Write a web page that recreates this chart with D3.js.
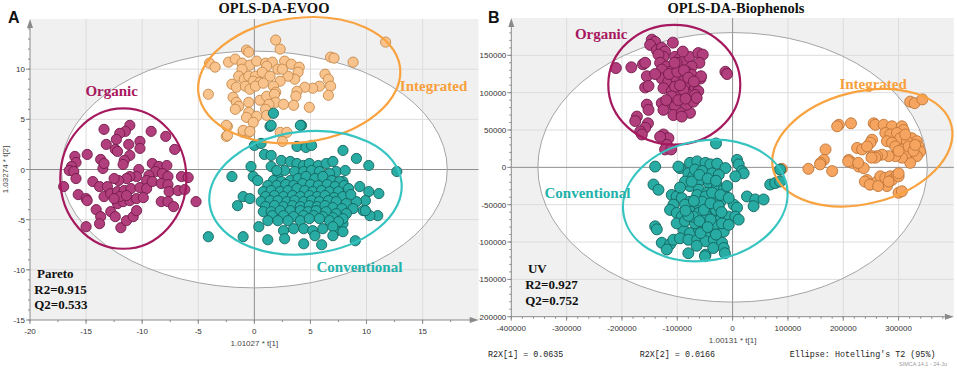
<!DOCTYPE html>
<html>
<head>
<meta charset="utf-8">
<script src="https://cdn.jsdelivr.net/npm/d3@7"></script>
<style>
  body { margin: 0; background: #fff; }
  svg { display: block; }
</style>
</head>
<body>
<svg id="chart" width="957" height="368"></svg>
<script>
// ---------------- data ----------------
const groupNames = ["Organic", "Integrated", "Conventional"];

// panel A : OPLS-DA-EVOO (Pareto)
const evooXTicks = [-20, -15, -10, -5, 0, 5, 10, 15];
const evooYTicks = [-15, -10, -5, 0, 5, 10];
const evooStats = ["Pareto", "R2=0.915", "Q2=0.533"];
const evooHotelling = [0, 0, 17.2, 11.8];
// centre x, centre y, semi axis x, semi axis y, tilt (deg) for Organic, Integrated, Conventional
const evooGroupEllipses = [
  [-11.68, -0.9, 5.62, 7.0, 0],
  [4.0, 8.9, 9.06, 6.2, -7.5],
  [4.56, -2.32, 8.61, 6.11, -6.4]
];

const evooOrganic = [
  [-13.4,4.0],[-11.1,4.4],[-11.5,3.8],[-12.0,3.6],[-12.3,3.0],[-9.2,3.8],[-7.9,3.3],[-7.1,2.0],
  [-13.2,2.5],[-11.2,2.5],[-10.2,2.8],[-10.2,2.1],[-12.4,2.0],[-12.2,1.8],[-14.9,1.5],[-16.0,1.3],
  [-15.9,0.7],[-16.3,0.3],[-16.5,-0.1],[-16.1,-0.2],[-15.9,-0.9],[-17.0,-1.7],[-13.7,1.0],[-13.5,0.1],
  [-13.4,0.6],[-11.1,1.4],[-11.6,0.9],[-11.7,0.5],[-9.1,0.6],[-8.5,0.3],[-7.8,0.4],[-8.8,-0.2],
  [-8.2,-0.4],[-7.7,-0.7],[-9.4,-0.6],[-9.6,-1.1],[-10.3,0.0],[-10.5,-0.7],[-11.1,-0.7],[-11.4,-0.9],
  [-12.1,-1.1],[-12.5,-0.9],[-14.4,-1.2],[-13.8,-1.7],[-13.1,-1.7],[-13.4,-2.7],[-12.8,-2.4],[-12.2,-2.2],
  [-11.6,-2.1],[-11.0,-1.9],[-10.2,-1.8],[-9.6,-1.9],[-9.1,-1.2],[-8.3,-1.4],[-7.7,-1.5],[-7.6,-2.2],
  [-6.8,-2.1],[-6.5,-0.7],[-5.9,-0.8],[-6.2,-2.0],[-15.7,-2.5],[-15.0,-2.9],[-14.9,-3.1],[-14.1,-4.0],
  [-13.7,-4.7],[-13.8,-5.4],[-15.0,-5.7],[-12.8,-4.2],[-12.4,-4.7],[-11.9,-5.8],[-11.4,-5.1],[-10.8,-4.7],
  [-10.5,-4.1],[-12.2,-3.4],[-11.7,-3.2],[-11.1,-3.1],[-10.5,-2.9],[-9.9,-2.8],[-8.3,-3.2],[-7.7,-3.2],
  [-7.2,-3.7],[-5.2,-3.2],[-12.0,-2.7],[-11.4,-2.6],[-12.5,-2.9]
];
const evooIntegrated = [
  [11.7,12.7],[1.9,12.9],[2.3,12.0],[-0.7,11.9],[-0.5,11.7],[-4.0,10.6],[-3.5,10.2],[-2.3,10.7],
  [-1.7,11.0],[-1.1,10.6],[-0.4,10.4],[0.2,10.8],[1.0,10.6],[1.6,10.7],[2.7,10.8],[3.3,10.5],
  [4.0,10.2],[3.9,9.7],[2.1,10.0],[1.1,10.3],[6.8,11.2],[7.1,11.1],[8.8,10.7],[6.3,9.5],
  [6.6,9.0],[6.8,8.3],[6.6,7.4],[5.8,8.3],[5.2,8.1],[4.5,8.2],[3.6,9.0],[3.0,9.3],
  [2.3,8.8],[1.7,8.3],[1.9,7.7],[3.8,7.8],[3.7,7.3],[-1.1,10.0],[-1.4,9.3],[-0.9,9.0],
  [-0.5,9.3],[0.1,9.3],[-0.1,8.8],[0.5,8.7],[-2.0,8.5],[-1.6,8.2],[-0.8,8.3],[-0.4,8.0],
  [0.1,8.3],[0.8,8.6],[-4.1,7.5],[-1.9,7.2],[-1.6,6.7],[-1.4,6.3],[-0.5,6.7],[0.5,6.9],
  [1.1,7.3],[1.8,7.5],[1.9,6.7],[1.3,6.5],[1.0,6.0],[2.6,6.5],[3.5,6.4],[-1.7,6.0],
  [-0.5,5.7],[0.2,5.3],[1.1,5.4],[-0.7,5.2],[-0.1,4.7],[4.9,6.2],[-2.4,4.3],[-2.5,3.3],
  [-1.0,3.7],[-0.5,3.7],[2.3,3.7],[2.9,3.7],[0.7,9.7],[1.4,9.3],[2.5,10.0],[-2.5,4.4],
  [-1.0,3.9],[-0.4,3.8],[-2.4,3.4],[2.5,2.8]
];
const evooConventional = [
  [1.4,4.3],[4.2,4.4],[1.7,5.6],[1.5,4.4],[4.1,4.4],[0.0,2.4],[0.6,2.6],[3.8,2.3],[4.6,2.2],[5.1,2.4],
  [7.9,1.9],[0.9,1.5],[1.5,1.4],[2.4,0.9],[3.2,0.8],[3.8,0.6],[9.1,1.1],[10.2,0.4],[12.7,-0.2],[-2.0,-0.7],
  [-0.3,0.3],[-0.1,-0.7],[0.3,-1.1],[1.5,0.3],[2.1,-0.4],[2.7,-0.1],[4.4,0.4],[4.9,0.6],[5.7,0.4],[6.4,0.6],
  [7.0,0.8],[7.3,-0.2],[8.1,-0.1],[7.9,-1.2],[9.4,-1.7],[10.2,-2.2],[11.1,-2.4],[9.9,-3.1],[9.1,-3.2],[11.0,-4.6],
  [10.3,-4.6],[9.7,-4.1],[-1.5,-3.6],[-1.0,-2.7],[-0.4,-2.9],[-4.1,-6.7],[-1.0,-6.7],[0.4,-5.7],[1.2,-7.0],[2.6,-6.1],
  [2.7,-6.9],[4.4,-7.4],[6.0,-7.5],[7.3,-6.1],[9.0,-7.1],[7.9,-5.4],
  [2.0,-0.1],[3.6,-0.2],[4.4,-0.2],[5.1,-0.1],[5.8,-0.2],[6.7,-0.4],
  [1.7,-1.1],[2.4,-1.2],[3.2,-1.1],[3.9,-0.9],[4.6,-0.7],[5.4,-0.9],[6.1,-0.7],[6.9,-1.1],[7.6,-1.2],
  [1.2,-1.6],[2.0,-1.6],[2.8,-1.5],[3.5,-1.6],[4.3,-1.4],[5.0,-1.5],[5.7,-1.6],[6.5,-1.5],[7.2,-1.7],[8.0,-1.6],
  [0.8,-2.2],[1.5,-2.1],[2.3,-2.2],[3.0,-2.1],[3.8,-1.9],[4.5,-2.1],[5.2,-2.2],[6.0,-2.1],[6.7,-2.2],[7.5,-2.2],[8.4,-1.9],
  [1.0,-2.7],[1.8,-2.6],[2.6,-2.7],[3.4,-2.6],[4.1,-2.7],[4.9,-2.6],[5.6,-2.7],[6.3,-2.6],[7.1,-2.8],[7.9,-2.7],[8.6,-2.5],
  [0.6,-3.2],[1.4,-3.1],[2.1,-3.1],[2.9,-3.2],[3.6,-3.1],[4.4,-3.2],[5.1,-3.1],[5.8,-3.2],[6.6,-3.1],[7.3,-3.2],[8.2,-3.4],
  [1.0,-3.7],[1.8,-3.6],[2.6,-3.7],[3.4,-3.6],[4.1,-3.7],[4.9,-3.6],[5.6,-3.7],[6.3,-3.6],[7.0,-3.8],[7.8,-3.9],[8.8,-3.9],[9.9,-4.1],
  [0.8,-4.2],[1.5,-4.2],[2.3,-4.1],[3.2,-4.1],[4.1,-4.1],[4.8,-4.2],[5.5,-4.1],[6.4,-4.2],[7.3,-4.4],[8.2,-4.4],
  [1.6,-4.6],[2.6,-4.6],[3.5,-4.7],[4.4,-4.6],[5.3,-4.6],[6.1,-4.7],[7.0,-4.8],[7.9,-4.9],
  [1.2,-5.1],[2.1,-5.1],[3.0,-5.1],[4.1,-5.1],[4.9,-4.9],[5.8,-4.9],[6.7,-5.1],[7.5,-5.2],
  [3.5,-5.9],[4.4,-5.9],[5.2,-6.1],[6.1,-5.9],[7.0,-5.7],[7.9,-6.2],[7.0,-6.6],[5.4,-6.6]
];

// panel B : OPLS-DA-Biophenols (UV)
const bioXTicks = [-400000, -300000, -200000, -100000, 0, 100000, 200000, 300000];
const bioYTicks = [-200000, -150000, -100000, -50000, 0, 50000, 100000, 150000];
const bioStats = ["UV", "R2=0.927", "Q2=0.752"];
const bioFooter = ["R2X[1] = 0.0635", "R2X[2] = 0.0166", "Ellipse: Hotelling's T2 (95%)"];
const bioHotelling = [0, 0, 352000, 180500];
const bioGroupEllipses = [
  [-105400, 110600, 119300, 80300, 0],
  [234500, 26300, 166000, 75000, -14],
  [-49400, -44500, 149800, 80300, -9.8]
];

const bioOrganic = [
  [-146000,171000],[-140000,168000],[-149000,164000],[-108000,167000],[-137000,157000],[-128000,160000],
  [-122000,155000],[-125000,148000],[-134000,151000],[-104000,148000],[-95000,146000],[-89000,142000],
  [-101000,140000],[-78000,148000],[-62000,153000],[-54000,151000],[-60000,140000],[-74000,135000],
  [-83000,128000],[-74000,124000],[-58000,119000],[-57000,122000],[-211000,133000],[-183000,134000],
  [-162000,138000],[-158000,140000],[-131000,140000],[-119000,135000],[-113000,128000],[-128000,131000],
  [-13000,128000],[-10000,125000],[-155000,122000],[-158000,107000],[-152000,109000],[-128000,119000],
  [-116000,115000],[-101000,117000],[-89000,115000],[-77000,111000],[-68000,106000],[-62000,102000],
  [-125000,106000],[-110000,102000],[-95000,99000],[-80000,97000],[-68000,97000],[-89000,104000],
  [-104000,108000],[-155000,84000],[-152000,77000],[-128000,86000],[-116000,84000],[-104000,82000],
  [-125000,77000],[-107000,70000],[-92000,73000],[-77000,73000],[-92000,68000],[-83000,84000],
  [-71000,88000],[-65000,93000],[-173000,68000],[-176000,62000],[-153000,59000],[-158000,53000],
  [-167000,48000],[-164000,44000],[-125000,44000],[-116000,39000],[-119000,30000],[-122000,24000],
  [-131000,41000],[-111000,24000],[-115000,125000],[-100000,128000],[-88000,130000],[-110000,95000],
  [-98000,90000],[-85000,92000],[-140000,125000],[-120000,90000],[-105000,140000],[-90000,155000],
  [-80000,120000],[-70000,115000],[-95000,110000]
];
const bioIntegrated = [
  [321000,88000],[329000,86000],[343000,91000],[192000,57000],[189000,55000],[214000,59000],[255000,59000],
  [258000,57000],[273000,57000],[288000,55000],[306000,55000],[309000,50000],[324000,39000],[333000,35000],
  [336000,28000],[339000,21000],[333000,15000],[321000,6000],[252000,37000],[249000,33000],[276000,46000],
  [285000,44000],[297000,46000],[303000,39000],[315000,35000],[279000,35000],[288000,33000],[294000,28000],
  [306000,24000],[315000,19000],[306000,13000],[294000,15000],[282000,15000],[270000,17000],[261000,15000],
  [225000,26000],[234000,24000],[243000,28000],[252000,15000],[258000,13000],[210000,10000],[216000,6000],
  [228000,1000],[237000,-1000],[168000,24000],[165000,10000],[159000,6000],[137000,-2000],[180000,-5000],
  [86000,-3000],[89000,-2000],[243000,-17000],[249000,-23000],[261000,-19000],[267000,-12000],[276000,-14000],
  [285000,-12000],[279000,-25000],[288000,-17000],[297000,-10000],[300000,-12000],[300000,-34000],[306000,-32000],
  [158000,4000],[209000,8000],[227000,6000],[251000,13000],[239000,-19000],[248000,-23000],[263000,-25000],
  [282000,-19000],[300000,-8000],[318000,28000],[327000,22000],[312000,44000],[300000,22000],[330000,30000]
];
const bioConventional = [
  [-30000,32000],[-140000,1000],[-95000,-1000],[-143000,-23000],[-134000,-30000],[-77000,6000],[-64000,8000],
  [-49000,6000],[-40000,4000],[-28000,5000],[-13000,-1000],[8000,10000],[11000,4000],[17000,-5000],[20000,-8000],
  [5000,-12000],[-80000,-8000],[-71000,-12000],[-58000,-17000],[-43000,-21000],[-28000,-25000],[-16000,-30000],
  [-77000,-25000],[-61000,-30000],[-46000,-34000],[-34000,-43000],[-22000,-46000],[-110000,-37000],[-101000,-39000],
  [-92000,-41000],[-107000,-50000],[-113000,-57000],[-101000,-61000],[-92000,-66000],[-77000,-46000],[-64000,-48000],
  [-49000,-52000],[-37000,-57000],[-77000,-59000],[-61000,-61000],[-46000,-66000],[-34000,-68000],[-22000,-70000],
  [2000,-50000],[8000,-54000],[-7000,-66000],[5000,-66000],[11000,-70000],[26000,-39000],[41000,-43000],
  [56000,-43000],[38000,-52000],[68000,-23000],[77000,-21000],[86000,-19000],[86000,-3000],[-140000,-79000],
  [-137000,-83000],[-128000,-101000],[-113000,-103000],[-107000,-97000],[-89000,-83000],[-77000,-88000],
  [-61000,-83000],[-46000,-88000],[-34000,-83000],[-16000,-86000],[-95000,-95000],[-80000,-97000],[-64000,-97000],
  [-49000,-99000],[-34000,-97000],[-19000,-101000],[-16000,-108000],[-49000,-117000],[-101000,-75000],
  [-86000,-72000],[-68000,-75000],[-49000,-77000],[-34000,-77000],[-19000,-75000],[-7000,-77000],[-68000,-3000],
  [-55000,-5000],[-37000,-8000],[-25000,-10000],[-64000,-37000],[-49000,-39000],[-37000,-34000],[-22000,-37000],
  [-7000,-41000],[-86000,-19000],[-74000,-19000],[-55000,-46000],[-40000,-70000],[-58000,-88000],[-71000,-66000],
  [-52000,-57000],[-30000,-57000],[-86000,-50000],[-95000,-27000],[-98000,1000],[-119000,-110000],[-80000,-115000],
  [-50000,-119000],[-14000,-115000],[-60000,-10000],[-45000,-15000],[-30000,-18000],[-70000,-45000],[-40000,-48000],
  [-25000,-52000],[-80000,-65000],[-60000,-72000],[-45000,-80000],[-30000,-90000],[-65000,-105000],[-35000,-108000],
  [-85000,-58000],[-20000,-60000],[-10000,-25000]
];

// ---------------- drawing ----------------
const svg = d3.select("#chart");
const defs = svg.append("defs");

const serif = "'Liberation Serif', 'Times New Roman', serif";
const sans = "'Liberation Sans', Arial, sans-serif";
const mono = "'Liberation Mono', 'DejaVu Sans Mono', monospace";

const groupStyle = [
  {ring: "#a5195e", label: "#a8185f"},
  {ring: "#f8a240", label: "#f7a03e"},
  {ring: "#36c4c1", label: "#22b1aa"}
];

function drawPanel(p) {
  const root = svg.append("g");
  if (p.clipLeft !== undefined) {
    defs.append("clipPath").attr("id", p.id + "-all")
      .append("rect").attr("x", p.clipLeft).attr("y", 0).attr("width", 957 - p.clipLeft).attr("height", 368);
    root.attr("clip-path", `url(#${p.id}-all)`);
  }

  const x = d3.scaleLinear().domain(p.xDomain).range(p.xRange);
  const y = d3.scaleLinear().domain(p.yDomain).range(p.yRange);
  const [left, right] = p.xRange;
  const [bottom, top] = p.yRange;

  defs.append("clipPath").attr("id", p.id + "-plot")
    .append("rect").attr("x", left).attr("y", top).attr("width", right - left).attr("height", bottom - top);

  const plot = root.append("g").attr("clip-path", `url(#${p.id}-plot)`);

  // grey field with the white Hotelling T2 ellipse
  plot.append("rect")
    .attr("x", left).attr("y", top).attr("width", right - left).attr("height", bottom - top)
    .attr("fill", "#f0f0f0");
  const [hx, hy, hrx, hry] = p.hotelling;
  plot.append("ellipse")
    .attr("cx", x(hx)).attr("cy", y(hy))
    .attr("rx", x(hx + hrx) - x(hx)).attr("ry", y(hy) - y(hy + hry))
    .attr("fill", "#fff");

  // grid
  plot.selectAll(".vgrid").data(p.xTicks.filter(d => d !== 0 && d !== p.xDomain[0]))
    .join("line")
    .attr("x1", d => x(d)).attr("x2", d => x(d)).attr("y1", top).attr("y2", bottom)
    .attr("stroke", "#dcdcdc").attr("stroke-width", 1);
  plot.selectAll(".hgrid").data(p.yTicks.filter(d => d !== 0 && d !== p.yDomain[0]))
    .join("line")
    .attr("x1", left).attr("x2", right).attr("y1", d => y(d)).attr("y2", d => y(d))
    .attr("stroke", "#dcdcdc").attr("stroke-width", 1);

  // zero lines
  plot.append("line").attr("x1", x(0)).attr("x2", x(0)).attr("y1", top).attr("y2", bottom)
    .attr("stroke", "#8e8e8e").attr("stroke-width", 1);
  plot.append("line").attr("x1", left).attr("x2", right).attr("y1", y(0)).attr("y2", y(0))
    .attr("stroke", "#8e8e8e").attr("stroke-width", 1);

  plot.append("ellipse")
    .attr("cx", x(hx)).attr("cy", y(hy))
    .attr("rx", x(hx + hrx) - x(hx)).attr("ry", y(hy) - y(hy + hry))
    .attr("fill", "none").attr("stroke", "#a3a3a3").attr("stroke-width", 1);

  // scores, drawn Integrated -> Conventional -> Organic
  [1, 2, 0].forEach(gi => {
    plot.append("g").selectAll("circle").data(p.points[gi]).join("circle")
      .attr("cx", d => x(d[0])).attr("cy", d => y(d[1]))
      .attr("r", p.r)
      .attr("fill", p.fills[gi]).attr("stroke", p.strokes[gi]).attr("stroke-width", 0.9);
  });

  // class ellipses
  root.append("g").selectAll("ellipse").data(p.groupEllipses).join("ellipse")
    .attr("transform", d => `translate(${x(d[0])},${y(d[1])}) rotate(${d[4]})`)
    .attr("rx", d => x(d[0] + d[2]) - x(d[0]))
    .attr("ry", d => y(d[1]) - y(d[1] + d[3]))
    .attr("fill", "none")
    .attr("stroke", (d, i) => groupStyle[i].ring)
    .attr("stroke-width", 2.2);

  // axes
  const axisCol = "#8a8a8a";
  root.append("line").attr("x1", left).attr("x2", right - 6).attr("y1", bottom).attr("y2", bottom)
    .attr("stroke", axisCol);
  root.append("path")
    .attr("d", `M${right},${bottom} L${right - 9},${bottom - 3} L${right - 9},${bottom + 3} Z`)
    .attr("fill", axisCol);
  root.append("line").attr("x1", left).attr("x2", left).attr("y1", bottom).attr("y2", top + 6)
    .attr("stroke", axisCol);
  root.append("path")
    .attr("d", `M${left},${top} L${left - 3},${top + 9} L${left + 3},${top + 9} Z`)
    .attr("fill", axisCol);

  // minor ticks
  root.selectAll(".xminor").data(d3.range(p.xDomain[0], p.xDomain[1], p.xMinor)).join("line")
    .attr("x1", d => x(d)).attr("x2", d => x(d)).attr("y1", bottom).attr("y2", bottom + 2)
    .attr("stroke", axisCol);
  root.selectAll(".yminor").data(d3.range(p.yDomain[0], p.yDomain[1], p.yMinor)).join("line")
    .attr("x1", left - 2).attr("x2", left).attr("y1", d => y(d)).attr("y2", d => y(d))
    .attr("stroke", axisCol);

  // major ticks and labels
  root.selectAll(".xmajor").data(p.xTicks).join("line")
    .attr("x1", d => x(d)).attr("x2", d => x(d)).attr("y1", bottom).attr("y2", bottom + 4)
    .attr("stroke", axisCol);
  root.selectAll(".xlab").data(p.xTicks).join("text")
    .attr("x", d => x(d)).attr("y", bottom + 14)
    .attr("text-anchor", "middle")
    .attr("font-family", sans).attr("font-size", 8).attr("fill", "#333")
    .text(d => String(d));
  root.selectAll(".ymajor").data(p.yTicks).join("line")
    .attr("x1", left - 4).attr("x2", left).attr("y1", d => y(d)).attr("y2", d => y(d))
    .attr("stroke", axisCol);
  root.selectAll(".ylab").data(p.yTicks).join("text")
    .attr("x", left - 5).attr("y", d => y(d) + 3)
    .attr("text-anchor", "end")
    .attr("font-family", sans).attr("font-size", 8).attr("fill", "#333")
    .text(d => String(d));

  // axis titles
  root.append("text")
    .attr("x", x(0)).attr("y", bottom + 26)
    .attr("text-anchor", "middle")
    .attr("font-family", sans).attr("font-size", 8).attr("fill", "#444")
    .text(p.xTitle);
  if (p.yTitle) {
    root.append("text")
      .attr("transform", `translate(${left - 22},${y(0)}) rotate(-90)`)
      .attr("text-anchor", "middle")
      .attr("font-family", sans).attr("font-size", 8).attr("fill", "#444")
      .text(p.yTitle);
  }

  // class names
  groupNames.forEach((name, i) => {
    root.append("text")
      .attr("x", x(p.labelPos[i][0])).attr("y", y(p.labelPos[i][1]))
      .attr("font-family", serif).attr("font-weight", "bold").attr("font-size", 15)
      .attr("fill", groupStyle[i].label)
      .text(name);
  });

  // model stats
  p.stats.forEach((s, i) => {
    root.append("text")
      .attr("x", x(p.statsPos[i][0])).attr("y", y(p.statsPos[i][1]))
      .attr("font-family", serif).attr("font-weight", "bold").attr("font-size", 13)
      .attr("fill", "#111")
      .text(s);
  });

  // title and panel letter
  svg.append("text")
    .attr("x", p.titleX).attr("y", 12.5)
    .attr("text-anchor", "middle")
    .attr("font-family", serif).attr("font-weight", "bold").attr("font-size", 14.5)
    .attr("fill", "#111")
    .text(p.title);
  svg.append("text")
    .attr("x", p.letterX).attr("y", 23)
    .attr("font-family", sans).attr("font-weight", "bold").attr("font-size", 16)
    .attr("fill", "#111")
    .text(p.letter);

  return {x, y};
}

drawPanel({
  id: "evoo",
  title: "OPLS-DA-EVOO", titleX: 274, letter: "A", letterX: 8,
  xDomain: [-20, 20], xRange: [30, 478.7],
  yDomain: [-15, 15], yRange: [320, 19],
  xTicks: evooXTicks, yTicks: evooYTicks, xMinor: 2.5, yMinor: 1,
  xTitle: "1.01027 * t[1]", yTitle: "1.03274 * t[2]",
  hotelling: evooHotelling, groupEllipses: evooGroupEllipses,
  points: [evooOrganic, evooIntegrated, evooConventional],
  fills: ["#b13e7d", "#f9c38d", "#28aba3"],
  strokes: ["#731a4a", "#c5894a", "#13645e"],
  r: 5.1,
  labelPos: [[-15.06, 7.33], [12.97, 7.78], [5.54, -10.17]],
  stats: evooStats, statsPos: [[-19.38, -10.77], [-19.62, -12.4], [-19.62, -13.87]]
});

drawPanel({
  id: "bio", clipLeft: 479,
  title: "OPLS-DA-Biophenols", titleX: 736, letter: "B", letterX: 488,
  xDomain: [-400000, 400000], xRange: [511.3, 953.9],
  yDomain: [-200000, 200000], yRange: [316.7, 18],
  xTicks: bioXTicks, yTicks: bioYTicks, xMinor: 20000, yMinor: 10000,
  xTitle: "1.00131 * t[1]", yTitle: null,
  hotelling: bioHotelling, groupEllipses: bioGroupEllipses,
  points: [bioOrganic, bioIntegrated, bioConventional],
  fills: ["#b13e7d", "#f6a561", "#28aba3"],
  strokes: ["#731a4a", "#c07537", "#13645e"],
  r: 5.5,
  labelPos: [[-285000, 172000], [193000, 105000], [-340000, -40500]],
  stats: bioStats, statsPos: [[-370000, -142000], [-375000, -163500], [-375000, -184000]]
});

// footer of panel B
const footerX = [488, 639.7, 789.7];
bioFooter.forEach((t, i) => {
  svg.append("text")
    .attr("x", footerX[i]).attr("y", 357)
    .attr("font-family", mono).attr("font-size", 8.4).attr("fill", "#222")
    .text(t);
});
svg.append("text")
  .attr("x", 899).attr("y", 366)
  .attr("font-family", sans).attr("font-size", 5.5).attr("fill", "#9a9a9a")
  .text("SIMCA 14.1 - 24-Ju");
</script>
</body>
</html>
